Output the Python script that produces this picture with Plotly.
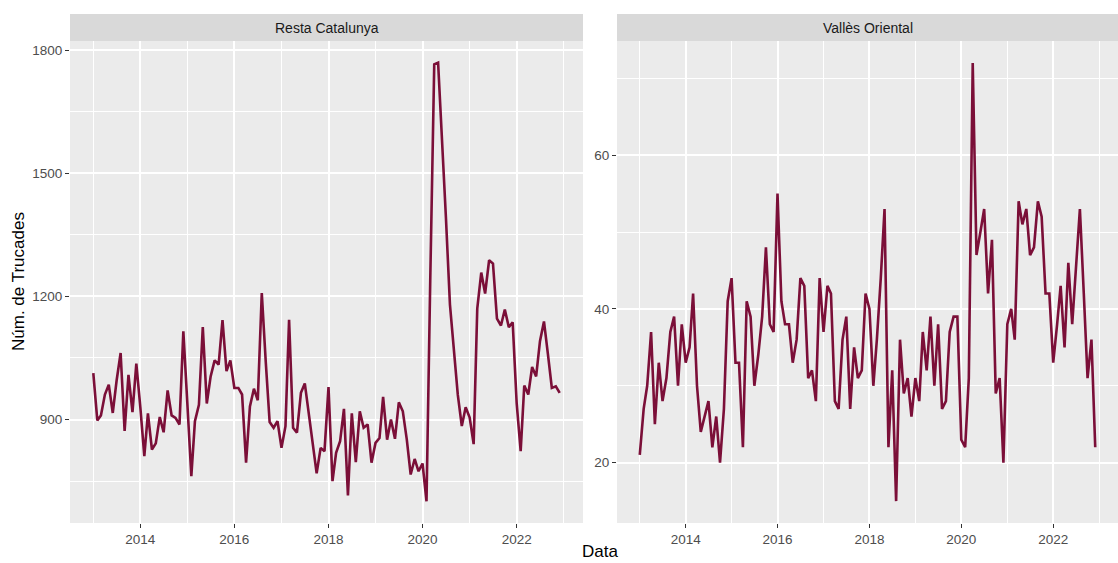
import plotly.graph_objects as go
from plotly.subplots import make_subplots
import pandas as pd

# monthly calls, Jan 2013 - Dec 2022
months = pd.date_range("2013-01-01", "2022-12-01", freq="MS")

resta_catalunya = [
    1013, 898, 910, 961, 985, 916, 995, 1062, 872, 1009, 918, 1036,
    930, 811, 915, 827, 842, 906, 869, 971, 910, 904, 888, 1115,
    940, 762, 896, 936, 1125, 939, 1005, 1044, 1034, 1142, 1018, 1044,
    977, 977, 961, 795, 932, 975, 947, 1208, 1040, 894, 880, 896,
    831, 884, 1143, 880, 868, 965, 988, 915, 850, 769, 831, 823,
    979, 750, 819, 847, 926, 715, 915, 796, 920, 880, 888, 795,
    843, 855, 955, 851, 900, 853, 942, 920, 851, 766, 804, 774,
    793, 701, 1240, 1765, 1769, 1590, 1390, 1180, 1060, 960, 884, 930,
    905, 840, 1170, 1258, 1207, 1288, 1280, 1146, 1129, 1168, 1125, 1137,
    940, 823, 983, 961, 1028, 1005, 1091, 1139, 1058, 977, 981, 965,
]

valles_oriental = [
    21, 27, 30, 37, 25, 33, 28, 31, 37, 39, 30, 38,
    33, 35, 42, 30, 24, 26, 28, 22, 26, 20, 27, 41,
    44, 33, 33, 22, 41, 39, 30, 34, 39, 48, 38, 37,
    55, 41, 38, 38, 33, 36, 44, 43, 31, 32, 28, 44,
    37, 43, 42, 28, 27, 36, 39, 27, 35, 31, 32, 42,
    40, 30, 36, 44, 53, 22, 32, 15, 36, 29, 31, 26,
    31, 28, 37, 32, 39, 30, 38, 27, 28, 37, 39, 39,
    23, 22, 31, 72, 47, 50, 53, 42, 49, 29, 31, 20,
    38, 40, 36, 54, 51, 53, 47, 48, 54, 52, 42, 42,
    33, 38, 43, 35, 46, 38, 45, 53, 42, 31, 36, 22,
]

panels = ["Resta Catalunya", "Vallès Oriental"]
left_yticks = [900, 1200, 1500, 1800]
right_yticks = [20, 40, 60]

line_col = "#7B0F38"
panel_bg = "#EBEBEB"
strip_bg = "#D9D9D9"

fig = make_subplots(rows=1, cols=2, horizontal_spacing=0.03)

fig.add_trace(go.Scatter(x=months, y=resta_catalunya, mode="lines",
                         line=dict(color=line_col, width=2.6), showlegend=False), row=1, col=1)
fig.add_trace(go.Scatter(x=months, y=valles_oriental, mode="lines",
                         line=dict(color=line_col, width=2.6), showlegend=False), row=1, col=2)

W, H = 1118, 563
ml, mr, mt, mb = 70, 0, 41, 40
pw = W - ml - mr
ph = H - mt - mb
dom1 = [0, (583 - ml) / pw]
dom2 = [(617 - ml) / pw, 1]

xcommon = dict(
    type="date", range=["2012-07-04", "2023-05-31"],
    tick0="2014-01-01", dtick="M24", tickformat="%Y",
    showgrid=True, gridcolor="white", gridwidth=1.6,
    minor=dict(dtick="M12", tick0="2013-01-01", showgrid=True, gridcolor="white", gridwidth=0.7),
    ticks="outside", ticklen=4, tickcolor="#333333", tickwidth=1,
    tickfont=dict(family="Liberation Sans, Arial", size=13.5, color="#4D4D4D"),
    zeroline=False, showline=False,
)
ycommon = dict(
    showgrid=True, gridcolor="white", gridwidth=1.6,
    ticks="outside", ticklen=4, tickcolor="#333333", tickwidth=1,
    tickfont=dict(family="Liberation Sans, Arial", size=13.5, color="#4D4D4D"),
    zeroline=False, showline=False,
)

fig.update_layout(
    xaxis=dict(xcommon, domain=dom1),
    xaxis2=dict(xcommon, domain=dom2),
    yaxis=dict(ycommon, range=[648, 1822], tickvals=left_yticks,
               minor=dict(tickvals=[750, 1050, 1350, 1650], showgrid=True, gridcolor="white", gridwidth=0.7)),
    yaxis2=dict(ycommon, range=[12.15, 74.85], tickvals=right_yticks,
                minor=dict(tickvals=[30, 50, 70], showgrid=True, gridcolor="white", gridwidth=0.7)),
    width=W, height=H,
    margin=dict(l=ml, r=mr, t=mt, b=mb),
    paper_bgcolor="white",
    plot_bgcolor=panel_bg,
    font=dict(family="Liberation Sans, Arial", color="#1A1A1A"),
)

# facet strips
strip_top = 1 + 27 / ph
for dom, name in zip([dom1, dom2], panels):
    fig.add_shape(type="rect", xref="paper", yref="paper",
                  x0=dom[0], x1=dom[1], y0=1, y1=strip_top,
                  fillcolor=strip_bg, line=dict(width=0), layer="below")
    fig.add_annotation(xref="paper", yref="paper", x=(dom[0] + dom[1]) / 2, y=(1 + strip_top) / 2,
                       text=name, showarrow=False, xanchor="center", yanchor="middle",
                       font=dict(size=14, color="#1A1A1A"))

# axis titles
fig.add_annotation(xref="paper", yref="paper", x=(600 - ml) / pw, y=-(551 - (H - mb)) / ph,
                   text="Data", showarrow=False, xanchor="center", yanchor="middle",
                   font=dict(size=17, color="black"))
fig.add_annotation(xref="paper", yref="paper", x=(18 - ml) / pw, y=0.5,
                   text="Núm. de Trucades", textangle=-90, showarrow=False,
                   xanchor="center", yanchor="middle", font=dict(size=17, color="black"))

fig.write_html("out.html", config={"displayModeBar": False},
               post_script="document.body.style.margin='0';document.body.style.overflow='hidden';")
